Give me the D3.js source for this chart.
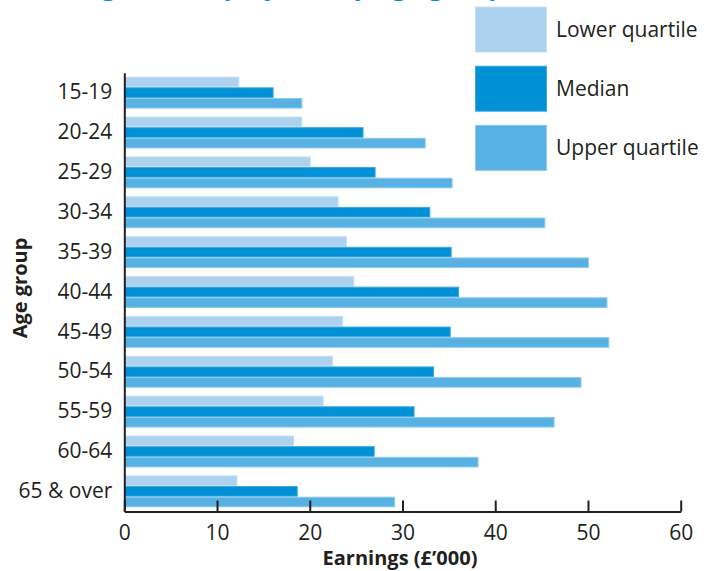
<!DOCTYPE html>
<html>
<head>
<meta charset="utf-8">
<script src="https://cdn.jsdelivr.net/npm/d3@7"></script>
<style>
  body { margin: 0; background: #fff; }
  text { font-family: "Open Sans", "Noto Sans", sans-serif; fill: #231f20; }
  .axis path, .axis line { stroke: #231f20; stroke-width: 2; }
  .axis text { font-size: 21px; fill: #231f20; }
</style>
</head>
<body>
<div id="chart"></div>
<script>
var width = 711
var height = 571

// age groups, top to bottom
var ages = ['15-19', '20-24', '25-29', '30-34', '35-39', '40-44', '45-49', '50-54', '55-59', '60-64', '65 & over'];

// earnings in £'000
var lower = [12.4, 19.2, 20.1, 23.1, 24.0, 24.8, 23.6, 22.5, 21.5, 18.3, 12.2];
var median = [16.1, 25.8, 27.1, 33.0, 35.3, 36.1, 35.2, 33.4, 31.3, 27.0, 18.7];
var upper = [19.2, 32.5, 35.4, 45.4, 50.1, 52.1, 52.3, 49.3, 46.4, 38.2, 29.2];

var seriesNames = ['Lower quartile', 'Median', 'Upper quartile'];
var xTicks = [0, 10, 20, 30, 40, 50, 60];

var fills = ['#acd2f0', '#0090d6', '#57b1e3'];
var strokes = ['#c4dff5', '#3aa8e2', '#8ccaee'];

var svg = d3.select('#chart')
            .append('svg')
            .attr('width', width)
            .attr('height', height);

// title sits mostly above the picture, only descenders show
svg.append('text')
  .attr('x', 17)
  .attr('y', -5)
  .style('font-size', '26px')
  .style('font-weight', 'bold')
  .style('fill', '#0090d6')
  .text('Earnings (all employees) by age group')

var x = d3.scaleLinear()
    .domain([0, 60])
    .range([124.3, 680.7]);

var y = d3.scaleBand()
    .domain(ages)
    .range([72.7, 511.3])
    .paddingInner(0.2)
    .paddingOuter(0.1);

var inner = d3.scaleBand()
    .domain(seriesNames)
    .range([0, y.bandwidth()]);

var rows = ages.map(function(a, i) {
  return {age: a, values: [lower[i], median[i], upper[i]]};
});

var groups = svg.append('g')
    .attr('class', 'bars')
  .selectAll('g')
  .data(rows)
  .enter().append('g')
    .attr('transform', function(d) { return 'translate(0,' + y(d.age) + ')'; });

groups.selectAll('rect')
  .data(function(d) {
    return d.values.map(function(v, j) { return {key: seriesNames[j], value: v, j: j}; });
  })
  .enter().append('rect')
    .attr('x', x(0) + 0.5)
    .attr('y', function(d) { return inner(d.key) + 0.5; })
    .attr('width', function(d) { return x(d.value) - x(0) - 1; })
    .attr('height', inner.bandwidth() - 1)
    .attr('fill', function(d) { return fills[d.j]; })
    .attr('stroke', function(d) { return strokes[d.j]; })
    .attr('stroke-width', 1);

// x axis, ticks pointing up into the plot
svg.append('g')
    .attr('class', 'axis')
    .attr('transform', 'translate(0,' + 511.5 + ')')
    .call(d3.axisBottom(x)
      .tickValues(xTicks)
      .tickSizeInner(-11)
      .tickSizeOuter(0)
      .tickPadding(9));

svg.select('.axis').selectAll('.tick text').attr('dy', '0.95em');

// y axis, line + labels only
svg.append('g')
    .attr('class', 'axis')
    .attr('transform', 'translate(' + 124.3 + ',0)')
    .call(d3.axisLeft(y)
      .tickSize(0)
      .tickSizeOuter(0)
      .tickPadding(12));

svg.append('text')
  .attr('x', 400)
  .attr('y', 565)
  .attr('text-anchor', 'middle')
  .style('font-size', '20px')
  .style('font-weight', 'bold')
  .text('Earnings (£’000)')

svg.append('text')
  .attr('transform', 'translate(27,288) rotate(-90)')
  .attr('text-anchor', 'middle')
  .style('font-size', '20px')
  .style('font-weight', 'bold')
  .text('Age group')

// legend
var legend = svg.append('g')
    .attr('class', 'legend')
  .selectAll('g')
  .data(seriesNames)
  .enter().append('g')
    .attr('transform', function(d, i) { return 'translate(475,' + (6.5 + i * 59.2) + ')'; });

legend.append('rect')
  .attr('x', 0.5)
  .attr('y', 0.5)
  .attr('width', 71)
  .attr('height', 45)
  .attr('fill', function(d, i) { return fills[i]; })
  .attr('stroke', function(d, i) { return strokes[i]; })
  .attr('stroke-width', 1);

legend.append('text')
  .attr('x', 81)
  .attr('y', 23)
  .attr('dy', '0.35em')
  .style('font-size', '21px')
  .text(function(d) { return d; });
</script>
</body>
</html>
